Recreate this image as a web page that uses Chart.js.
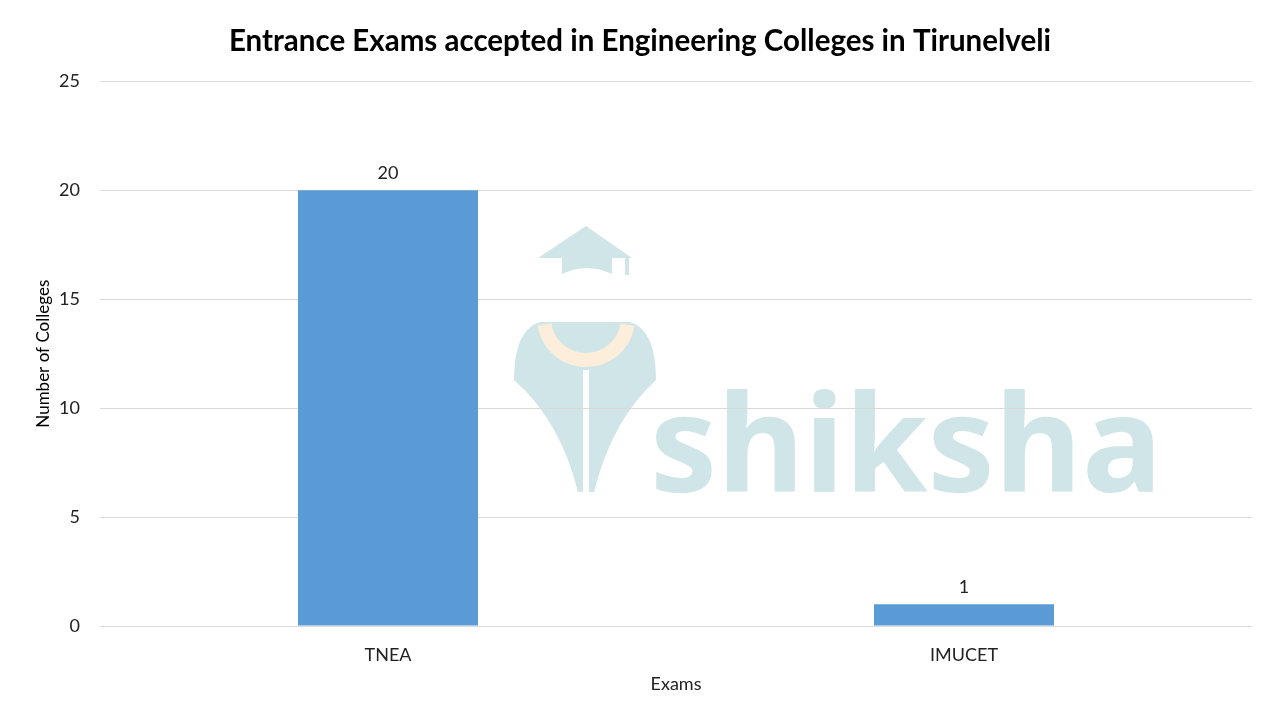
<!DOCTYPE html>
<html>
<head>
<meta charset="utf-8">
<script src="https://cdn.jsdelivr.net/npm/chart.js@4"></script>
<style>
  html, body { margin: 0; padding: 0; background: #fff; }
  #wrap { width: 1280px; height: 720px; }
</style>
</head>
<body>
<div id="wrap"><canvas id="barChart" width="1280" height="720"></canvas></div>
<script>
// Chart data
const exams = ["TNEA", "IMUCET"];
const collegeCounts = [20, 1];
const yTicks = [0, 5, 10, 15, 20, 25];

const FONT = "Lato, 'Open Sans', sans-serif";

// light shiksha watermark behind the grid
const watermark = {
    id: 'watermark',
    beforeDraw(chart) {
        const ctx = chart.ctx;
        ctx.save();
        ctx.fillStyle = '#fff';
        ctx.fillRect(0, 0, chart.width, chart.height);

        const teal = '#cfe5e8';
        ctx.fillStyle = teal;
        ctx.font = "bold 134px 'Noto Sans', sans-serif";
        ctx.textBaseline = 'alphabetic';
        ctx.textAlign = 'left';
        ctx.fillText('shiksha', 650, 492);

        // cap
        ctx.beginPath();
        ctx.moveTo(538, 258);
        ctx.lineTo(586, 226);
        ctx.lineTo(632, 258);
        ctx.closePath();
        ctx.fill();
        ctx.beginPath();
        ctx.moveTo(562, 258);
        ctx.lineTo(612, 258);
        ctx.lineTo(612, 274);
        ctx.quadraticCurveTo(587, 262, 562, 274);
        ctx.closePath();
        ctx.fill();
        ctx.fillRect(625, 258, 4, 17);

        // nib body
        ctx.beginPath();
        ctx.moveTo(540, 322);
        ctx.quadraticCurveTo(514, 330, 514, 380);
        ctx.quadraticCurveTo(560, 420, 578, 492);
        ctx.lineTo(583, 492);
        ctx.lineTo(583, 370);
        ctx.lineTo(589, 370);
        ctx.lineTo(589, 492);
        ctx.lineTo(594, 492);
        ctx.quadraticCurveTo(612, 420, 656, 380);
        ctx.quadraticCurveTo(656, 330, 630, 322);
        ctx.closePath();
        ctx.fill();

        // orange collar
        ctx.strokeStyle = '#fdeedc';
        ctx.lineWidth = 14;
        ctx.beginPath();
        ctx.arc(586, 318, 42, 0.05 * Math.PI, 0.95 * Math.PI);
        ctx.stroke();
        ctx.restore();
    }
};

// value labels above the bars
const barValues = {
    id: 'barValues',
    afterDatasetsDraw(chart) {
        const ctx = chart.ctx;
        const meta = chart.getDatasetMeta(0);
        ctx.save();
        ctx.font = "18px " + FONT;
        ctx.fillStyle = '#222';
        ctx.textAlign = 'center';
        ctx.textBaseline = 'bottom';
        meta.data.forEach((bar, i) => {
            ctx.fillText(collegeCounts[i], bar.x, bar.y - 8);
        });
        ctx.restore();
    }
};

new Chart(document.getElementById('barChart').getContext('2d'), {
    type: 'bar',
    data: {
        labels: exams,
        datasets: [{
            label: 'Number of Colleges',
            data: collegeCounts,
            backgroundColor: '#5b9bd5',
            categoryPercentage: 1,
            barPercentage: 0.3125
        }]
    },
    options: {
        responsive: false,
        animation: false,
        layout: { padding: { left: 0, right: 0, top: 0, bottom: 25 } },
        plugins: {
            legend: { display: false },
            tooltip: { enabled: false },
            title: {
                display: true,
                text: 'Entrance Exams accepted in Engineering Colleges in Tirunelveli',
                color: '#000',
                font: { family: FONT, size: 29.5, weight: 'bold' },
                padding: { top: 24, bottom: 22 }
            }
        },
        scales: {
            x: {
                grid: { display: false, drawTicks: false },
                border: { display: false },
                afterFit(scale) { scale.height = 69; },
                ticks: { color: '#222', font: { family: FONT, size: 18 }, padding: 18 },
                title: {
                    display: true,
                    text: 'Exams',
                    color: '#222',
                    font: { family: FONT, size: 18 },
                    padding: { top: 0, bottom: 0 }
                }
            },
            y: {
                min: 0,
                max: 25,
                afterBuildTicks(scale) {
                    scale.ticks = yTicks.map(v => ({ value: v }));
                },
                afterFit(scale) { scale.width = 100; },
                grid: { color: '#d9d9d9', drawTicks: false },
                border: { display: false },
                ticks: { color: '#222', font: { family: FONT, size: 18 }, padding: 20 },
                title: {
                    display: true,
                    text: 'Number of Colleges',
                    color: '#000',
                    font: { family: FONT, size: 17 },
                    padding: { top: 33, bottom: 0 }
                }
            },
            // empty strip on the right so the title stays centred on the page
            yRight: {
                position: 'right',
                afterFit(scale) { scale.width = 28; },
                grid: { display: false, drawTicks: false },
                border: { display: false },
                ticks: { display: false }
            }
        }
    },
    plugins: [watermark, barValues]
});
</script>
</body>
</html>
